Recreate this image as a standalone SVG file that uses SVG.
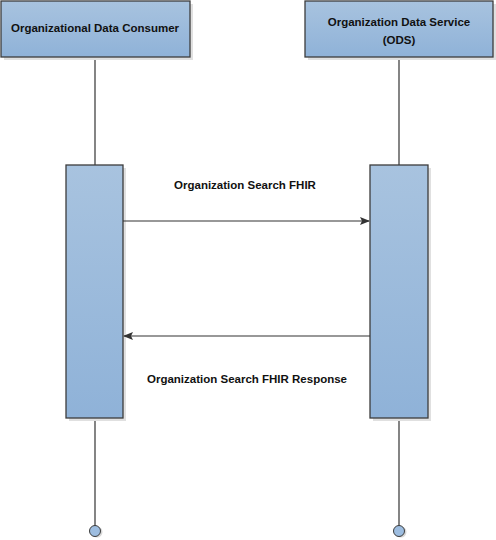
<svg xmlns="http://www.w3.org/2000/svg" width="496" height="540" viewBox="0 0 496 540">
<defs>
<linearGradient id="g" x1="0" y1="0" x2="0" y2="1">
<stop offset="0" stop-color="#a8c3df"/>
<stop offset="1" stop-color="#8fb2d8"/>
</linearGradient>
<marker id="ah" markerWidth="10" markerHeight="8" refX="9" refY="4" orient="auto" markerUnits="userSpaceOnUse">
<path d="M0,0 L10,4 L0,8 L2,4 Z" fill="#333"/>
</marker>
</defs>
<style>
.box{fill:url(#g);stroke:#3c3c3c;stroke-width:1.3}
.sh{fill:#e0e0e0}
.ll{stroke:#333;stroke-width:1.2;fill:none}
.t{font-family:"Liberation Sans",Arial,sans-serif;font-weight:bold;font-size:11.5px;fill:#111;text-anchor:middle}
.end{fill:#9dbde0;stroke:#3c3c3c;stroke-width:1}
.msg{stroke:#333;stroke-width:1.2;fill:none;marker-end:url(#ah)}
</style>
<rect width="496" height="540" fill="#fff"/>
<g id="lifelines">
<line class="ll" x1="95" y1="58" x2="95" y2="526"/>
<line class="ll" x1="399" y1="58" x2="399" y2="526"/>
</g>
<g id="consumer">
<rect class="sh" x="4" y="4" width="189" height="56"/>
<rect class="box" x="1" y="1" width="189" height="56"/>
<text class="t" x="95" y="32">Organizational Data Consumer</text>
</g>
<g id="ods">
<rect class="sh" x="308" y="4" width="188" height="56"/>
<rect class="box" x="305" y="1" width="188" height="56"/>
<text class="t" x="399" y="26">Organization Data Service</text>
<text class="t" x="399" y="44">(ODS)</text>
</g>
<g id="consumer-activation">
<rect class="sh" x="69" y="168" width="57" height="253"/>
<rect class="box" x="66" y="165" width="57" height="253"/>
</g>
<g id="ods-activation">
<rect class="sh" x="373" y="168" width="58" height="253"/>
<rect class="box" x="370" y="165" width="58" height="253"/>
</g>
<g id="connectors">
<line class="msg" x1="123" y1="221" x2="369" y2="221"/>
<line class="msg" x1="370" y1="336" x2="124" y2="336"/>
<text class="t" x="245" y="189">Organization Search FHIR</text>
<text class="t" x="247" y="383">Organization Search FHIR Response</text>
</g>
<g id="ends">
<circle class="end" cx="96" cy="531" r="5.5" fill="#ccc" style="fill:#d8d8d8;stroke:none" transform="translate(1,1)"/>
<circle class="end" cx="95" cy="531" r="5.5"/>
<circle class="end" cx="400" cy="531" r="5.5" style="fill:#d8d8d8;stroke:none" transform="translate(1,1)"/>
<circle class="end" cx="399" cy="531" r="5.5"/>
</g>
</svg>
